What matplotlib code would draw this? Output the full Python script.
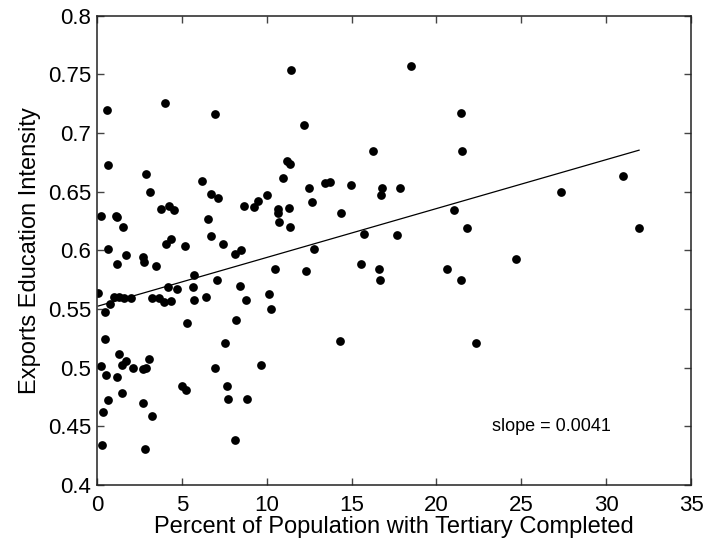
import numpy as np
import matplotlib
matplotlib.use('Agg')
import matplotlib.pyplot as plt

plt.rcParams['font.family'] = ['Liberation Sans', 'DejaVu Sans']

# tertiary completion (%) vs exports education intensity
tertiary = [0.61, 4.00, 6.98, 0.67, 2.88, 3.14, 0.24, 1.10, 1.20, 1.55,
	3.78, 4.25, 4.53, 4.35, 6.20, 6.70, 7.14, 6.53, 6.69, 8.67,
	9.27, 9.47, 10.02, 10.65, 10.65, 10.75, 11.20, 11.35, 10.95, 11.43,
	18.53, 12.20, 21.43, 21.51, 16.25, 12.49, 13.41, 13.70, 14.94, 16.82,
	16.76, 17.88, 11.31, 11.39, 12.69, 14.39, 21.02, 21.82, 15.75, 17.70,
	12.78, 10.49, 12.31, 15.57, 16.59, 16.65, 20.60, 21.43, 14.33, 22.33,
	27.35, 31.02, 31.94, 24.70, 0.63, 0.08, 1.16, 1.73, 2.71, 2.76,
	3.47, 4.08, 5.18, 7.41, 8.14, 8.49, 5.73, 7.08, 8.43, 10.12,
	10.24, 4.19, 4.73, 5.67, 5.69, 6.41, 8.78, 1.02, 1.31, 1.61,
	2.00, 0.78, 0.45, 3.25, 3.65, 3.94, 4.37, 5.31, 8.18, 0.49,
	7.53, 1.29, 0.22, 0.51, 1.18, 1.45, 1.73, 2.14, 2.73, 2.88,
	3.08, 6.98, 9.65, 5.02, 5.24, 7.67, 7.73, 8.84, 1.45, 0.65,
	2.69, 0.37, 3.22, 0.31, 8.16, 2.80]
intensity = [0.720, 0.726, 0.716, 0.673, 0.665, 0.650, 0.629, 0.629, 0.628, 0.620,
	0.635, 0.638, 0.634, 0.610, 0.659, 0.648, 0.645, 0.627, 0.612, 0.638,
	0.637, 0.642, 0.647, 0.635, 0.632, 0.624, 0.676, 0.674, 0.662, 0.754,
	0.757, 0.707, 0.717, 0.685, 0.685, 0.653, 0.657, 0.658, 0.656, 0.653,
	0.647, 0.653, 0.636, 0.620, 0.641, 0.632, 0.634, 0.619, 0.614, 0.613,
	0.601, 0.584, 0.582, 0.588, 0.584, 0.575, 0.584, 0.575, 0.523, 0.521,
	0.650, 0.663, 0.619, 0.593, 0.601, 0.564, 0.588, 0.596, 0.594, 0.590,
	0.587, 0.605, 0.604, 0.605, 0.597, 0.600, 0.579, 0.575, 0.570, 0.563,
	0.550, 0.569, 0.567, 0.569, 0.558, 0.560, 0.558, 0.560, 0.560, 0.559,
	0.559, 0.554, 0.547, 0.559, 0.559, 0.556, 0.557, 0.538, 0.541, 0.524,
	0.521, 0.512, 0.501, 0.494, 0.492, 0.502, 0.506, 0.500, 0.499, 0.500,
	0.507, 0.500, 0.502, 0.484, 0.481, 0.484, 0.473, 0.473, 0.478, 0.472,
	0.470, 0.462, 0.459, 0.434, 0.438, 0.431]

# least squares line as drawn in the figure
fit_intercept = 0.5522
fit_slope = 0.00417
slope_label = 'slope = 0.0041'

x = np.array(tertiary)
y = np.array(intensity)

fig = plt.figure(figsize=(7.08, 5.43), dpi=100)
ax = fig.add_axes([0.137, 0.107, 0.839, 0.864])

ax.plot(x, y, 'o', color='black', markersize=6.3, markeredgewidth=0)
xfit = np.array([x.min(), x.max()])
ax.plot(xfit, fit_intercept + fit_slope * xfit, color='black', linewidth=0.9)

ax.text(23.3, 0.45, slope_label, fontsize=13, va='center', ha='left')

ax.set_xlim(0, 35)
ax.set_ylim(0.4, 0.8)
ax.set_xticks(range(0, 36, 5))
ax.set_yticks([0.4, 0.45, 0.5, 0.55, 0.6, 0.65, 0.7, 0.75, 0.8])
ax.set_yticklabels(['0.4', '0.45', '0.5', '0.55', '0.6', '0.65', '0.7', '0.75', '0.8'])
ax.tick_params(direction='in', length=5, width=1, top=True, right=True,
	labelsize=16, pad=4, color='#444444')
ax.tick_params(axis='x', pad=7)
for s in ax.spines.values():
	s.set_linewidth(1.1)
	s.set_color('#222222')

ax.set_xlabel('Percent of Population with Tertiary Completed', fontsize=17, labelpad=0)
ax.set_ylabel('Exports Education Intensity', fontsize=17, labelpad=5)

fig.savefig('out.png', dpi=100)
